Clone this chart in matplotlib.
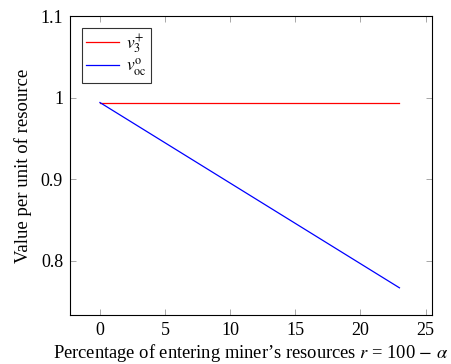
import matplotlib
matplotlib.use("Agg")
from matplotlib import pyplot as plt

# Data
r_vals = [0, 23]
v3_plus = [0.994, 0.994]
v_oc = [0.994, 0.767]

plt.rcParams["font.family"] = "Liberation Serif"
plt.rcParams["mathtext.fontset"] = "stix"

fig = plt.figure(figsize=(4.51, 3.64), dpi=100)
ax = fig.add_axes([0.1552, 0.1346, 0.8027, 0.8214])

ax.plot(r_vals, v3_plus, color="red", lw=0.9, label=r"$v_3^{+}$")
ax.plot(r_vals, v_oc, color="blue", lw=0.9, label=r"$v_{\mathrm{oc}}^{\mathrm{o}}$")

ax.set_xlim(-2.3, 25.5)
ax.set_ylim(0.7337, 1.1)
ax.set_xticks([0, 5, 10, 15, 20, 25])
ax.set_yticks([0.8, 0.9, 1.0, 1.1])
ax.set_yticklabels(["0.8", "0.9", "1", "1.1"])
ax.tick_params(direction="in", top=True, right=True, length=4, width=0.6,
               color="#999999", labelsize=13, pad=5)
for s in ax.spines.values():
    s.set_linewidth(0.8)

ax.set_xlabel(r"Percentage of entering miner’s resources $r$ = 100 $-$ $\alpha$", fontsize=13.3, labelpad=2)
ax.set_ylabel("Value per unit of resource", fontsize=13.5, labelpad=6)

leg = ax.legend(loc="upper left", fontsize=12.5, frameon=True, fancybox=False,
                edgecolor="black", handlelength=1.9, handletextpad=0.35,
                borderaxespad=0.7, labelspacing=0.05, borderpad=0.25)
leg.get_frame().set_linewidth(0.8)

fig.savefig("out.png", dpi=100)
